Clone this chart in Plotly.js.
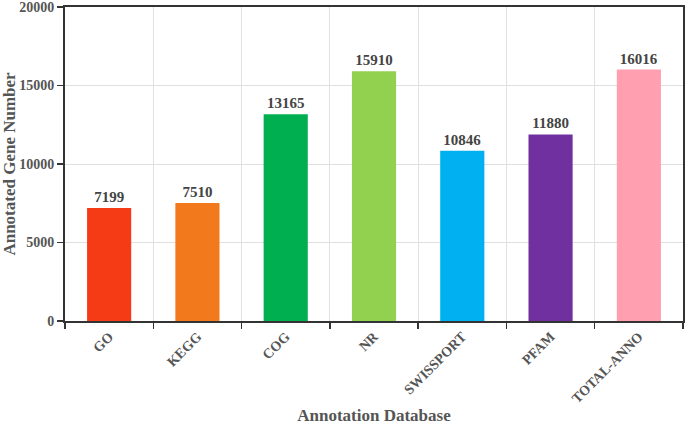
<!DOCTYPE html>
<html>
<head>
<meta charset="utf-8">
<script src="https://cdn.plot.ly/plotly-3.0.1.min.js"></script>
<style>
  html, body { margin: 0; padding: 0; background: #fff; }
  #chart { width: 685px; height: 425px; }
</style>
</head>
<body>
<div id="chart"></div>
<script>
// annotation counts per database
var databases = ['GO', 'KEGG', 'COG', 'NR', 'SWISSPORT', 'PFAM', 'TOTAL-ANNO'];
var geneCounts = [7199, 7510, 13165, 15910, 10846, 11880, 16016];
var barColors = ['#F53B15', '#F27A1C', '#00B050', '#92D050', '#00B0F0', '#7030A0', '#FF9FB0'];
var yTicks = [0, 5000, 10000, 15000, 20000];

var serif = 'Liberation Serif, Times New Roman, serif';

var trace = {
  x: databases,
  y: geneCounts,
  type: 'bar',
  marker: { color: barColors },
  text: geneCounts.map(String),
  textposition: 'outside',
  cliponaxis: false,
  textfont: { family: serif, size: 15, color: '#444', weight: 'bold' },
  hoverinfo: 'x+y'
};

var layout = {
  width: 685,
  height: 425,
  margin: { l: 65, r: 2, t: 7, b: 104 },
  bargap: 0.5,
  showlegend: false,
  plot_bgcolor: '#fff',
  paper_bgcolor: '#fff',
  font: { family: serif, color: '#444' },
  xaxis: {
    type: 'category',
    tickson: 'boundaries',
    tickangle: -45,
    ticks: 'outside',
    ticklen: 6,
    tickcolor: '#333',
    tickwidth: 1.5,
    showgrid: true,
    gridcolor: '#e0e0e0',
    showline: true,
    linecolor: '#333',
    linewidth: 2,
    mirror: true,
    tickfont: { family: serif, size: 14, color: '#555', weight: 'bold' },
    title: {
      text: 'Annotation Database',
      font: { family: serif, size: 17, color: '#555', weight: 'bold' },
      standoff: 14
    }
  },
  yaxis: {
    range: [0, 20000],
    tickmode: 'array',
    tickvals: yTicks,
    ticktext: yTicks.map(String),
    ticklabeloverflow: 'allow',
    ticks: 'outside',
    ticklen: 6,
    tickcolor: '#333',
    tickwidth: 1.5,
    showgrid: true,
    gridcolor: '#e0e0e0',
    zeroline: false,
    showline: true,
    linecolor: '#333',
    linewidth: 2,
    mirror: true,
    tickfont: { family: serif, size: 14, color: '#555', weight: 'bold' },
    title: {
      text: 'Annotated Gene Number',
      font: { family: serif, size: 17, color: '#555', weight: 'bold' },
      standoff: 12
    }
  }
};

Plotly.newPlot('chart', [trace], layout, { displayModeBar: false, staticPlot: true });
</script>
</body>
</html>
